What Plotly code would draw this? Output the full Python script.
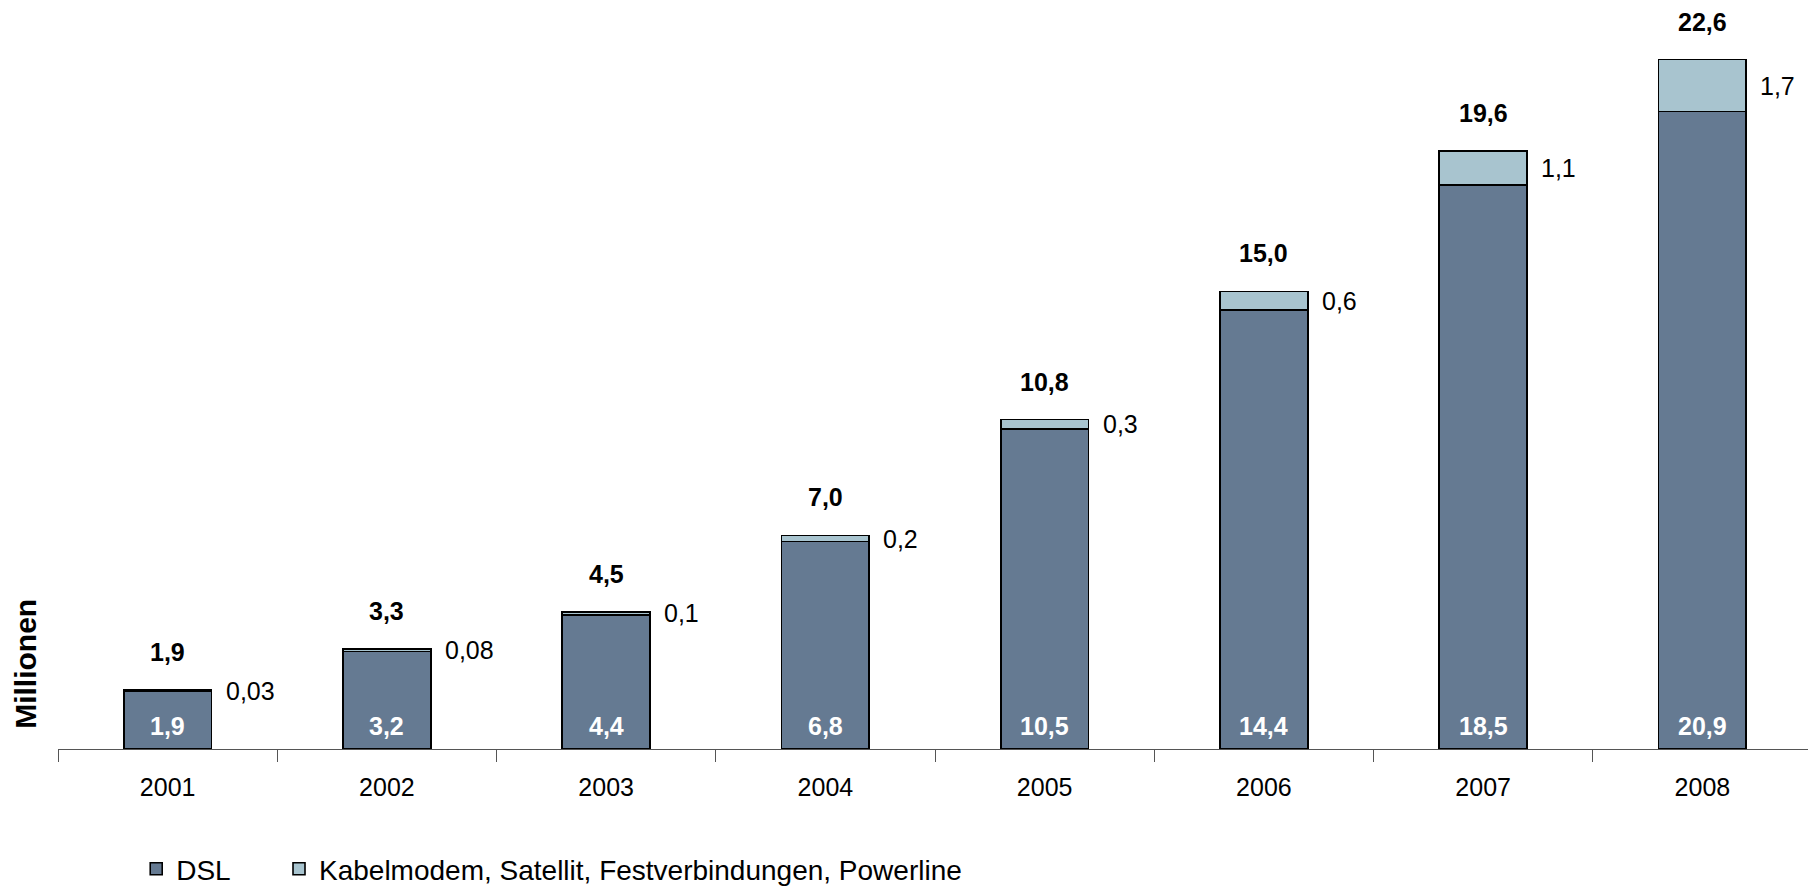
import plotly.graph_objects as go

YEARS = ["2001", "2002", "2003", "2004", "2005", "2006", "2007", "2008"]
DSL = [1.9, 3.2, 4.4, 6.8, 10.5, 14.4, 18.5, 20.9]
OTHER = [0.03, 0.08, 0.1, 0.2, 0.3, 0.6, 1.1, 1.7]
SERIES_NAMES = ["DSL", "Kabelmodem, Satellit, Festverbindungen, Powerline"]

DSL_COLOR = "#657A92"
OTHER_COLOR = "#A8C4CF"
FONT = "Liberation Sans, Arial, sans-serif"


def de(v, fmt="{:.1f}"):
    return fmt.format(v).replace(".", ",")


pos = list(range(len(YEARS)))

fig = go.Figure()
fig.add_trace(go.Bar(
    x=pos, y=DSL, name=SERIES_NAMES[0],
    marker=dict(color=DSL_COLOR, line=dict(color="black", width=1.6)),
    width=0.4, legend="legend",
))
fig.add_trace(go.Bar(
    x=pos, y=OTHER, name=SERIES_NAMES[1],
    marker=dict(color=OTHER_COLOR, line=dict(color="black", width=1.6)),
    width=0.4, legend="legend2",
))

annotations = []
for i, d, o in zip(pos, DSL, OTHER):
    total = d + o
    # total above bar
    annotations.append(dict(
        x=i, y=total, text=f"<b>{de(round(total, 1))}</b>", showarrow=False,
        yanchor="middle", yshift=38, font=dict(size=25, color="black", family=FONT),
    ))
    # DSL value inside bar
    annotations.append(dict(
        x=i, y=0, text=f"<b>{de(d)}</b>", showarrow=False,
        yanchor="middle", yshift=23, font=dict(size=25, color="white", family=FONT),
    ))
    # other value right of bar
    annotations.append(dict(
        x=i, y=d + o / 2, text=de(o, "{}"), showarrow=False,
        xanchor="left", yanchor="middle", xshift=56,
        font=dict(size=25, color="black", family=FONT),
    ))

annotations.append(dict(
    xref="paper", yref="paper", x=-0.0182, y=0.025, xanchor="center", yanchor="bottom",
    text="<b>Millionen</b>", textangle=-90, showarrow=False,
    font=dict(size=30, color="black", family=FONT),
))

legend_common = dict(
    orientation="h", yref="container", y=0.0205, xanchor="left", yanchor="middle",
    font=dict(size=28, family=FONT), bgcolor="rgba(0,0,0,0)",
)

fig.update_layout(
    barmode="stack",
    width=1808, height=879,
    margin=dict(l=50, r=4, t=12, b=138),
    plot_bgcolor="white", paper_bgcolor="white",
    font=dict(family=FONT, size=25, color="black"),
    annotations=annotations,
    showlegend=True,
    legend=dict(x=0.0446, **legend_common),
    legend2=dict(x=0.126, **legend_common),
    xaxis=dict(
        range=[-0.5, len(YEARS) - 0.5], showline=True, linecolor="#555555", linewidth=1,
        tickmode="array", tickvals=pos, ticktext=YEARS, ticks="",
        minor=dict(tickmode="array", tickvals=[p - 0.5 for p in pos] + [len(YEARS) - 0.5],
                   ticks="outside", ticklen=12, tickcolor="#555555", showgrid=False),
        showgrid=False, zeroline=False, ticklabelstandoff=16,
        tickfont=dict(size=25, family=FONT),
    ),
    yaxis=dict(
        range=[0, 23.9], visible=False, showgrid=False, zeroline=False,
    ),
)
fig.update_traces(cliponaxis=False)

fig.write_html("out.html")
